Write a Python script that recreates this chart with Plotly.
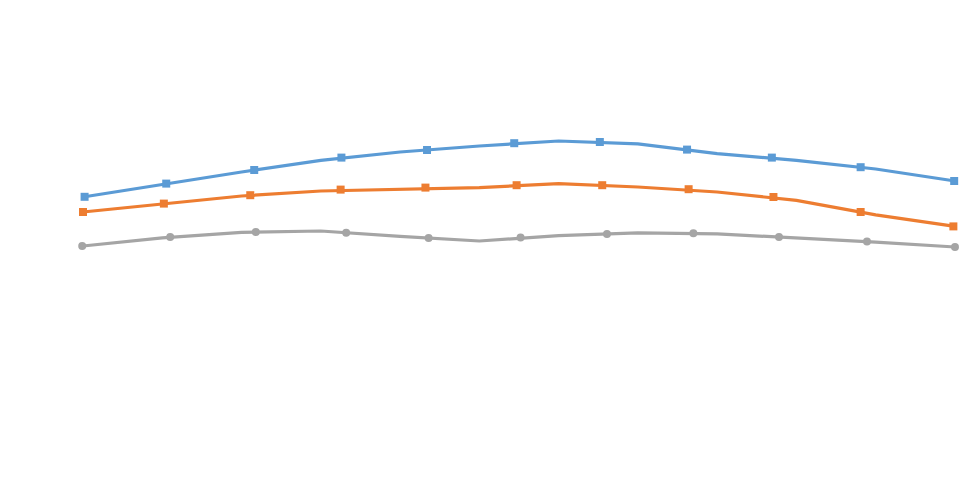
import plotly.graph_objects as go

# Line vertices (12 periods)
periods = [1, 2, 3, 4, 5, 6, 7, 8, 9, 10, 11, 12]
blue_line = [70.75, 73.9, 77.0, 79.9, 82.0, 83.5, 84.75, 84.05, 81.6, 79.9, 77.75, 74.75]
orange_line = [67.0, 69.0, 71.0, 72.25, 72.75, 73.1, 74.1, 73.25, 72.0, 69.9, 66.3, 63.4]
gray_line = [58.5, 60.55, 61.9, 62.25, 60.9, 59.75, 61.1, 61.8, 61.55, 60.55, 59.45, 58.25]

# Marker points (11 per series)
blue_mx = [1.02, 2.05, 3.16, 4.26, 5.34, 6.44, 7.52, 8.62, 9.69, 10.81, 11.99]
blue_my = [70.8, 74.1, 77.5, 80.6, 82.5, 84.2, 84.5, 82.6, 80.6, 78.2, 74.75]
orange_mx = [1.0, 2.02, 3.11, 4.25, 5.32, 6.47, 7.55, 8.64, 9.71, 10.81, 11.98]
orange_my = [67.0, 69.1, 71.2, 72.6, 73.1, 73.7, 73.7, 72.7, 70.75, 67.0, 63.4]
gray_mx = [0.99, 2.10, 3.18, 4.32, 5.36, 6.52, 7.61, 8.70, 9.78, 10.89, 12.0]
gray_my = [58.5, 60.75, 62.0, 61.8, 60.5, 60.6, 61.5, 61.7, 60.75, 59.6, 58.25]

BLUE = "#5B9BD5"
ORANGE = "#ED7D31"
GRAY = "#A5A5A5"

fig = go.Figure()
for ly, mx, my, col, sym in [
    (gray_line, gray_mx, gray_my, GRAY, "circle"),
    (orange_line, orange_mx, orange_my, ORANGE, "square"),
    (blue_line, blue_mx, blue_my, BLUE, "square"),
]:
    fig.add_trace(go.Scatter(x=periods, y=ly, mode="lines",
                             line=dict(color=col, width=3.2), hoverinfo="skip"))
    fig.add_trace(go.Scatter(x=mx, y=my, mode="markers",
                             marker=dict(color=col, size=8, symbol=sym,
                                         line=dict(width=0))))

fig.update_layout(
    width=980, height=480,
    margin=dict(l=0, r=0, t=0, b=0),
    paper_bgcolor="white", plot_bgcolor="white",
    showlegend=False,
    xaxis=dict(range=[1 - 75 / 79.27, 1 + (980 - 75) / 79.27], visible=False),
    yaxis=dict(range=[-2, 118], visible=False),
)

fig.write_html("out.html")
